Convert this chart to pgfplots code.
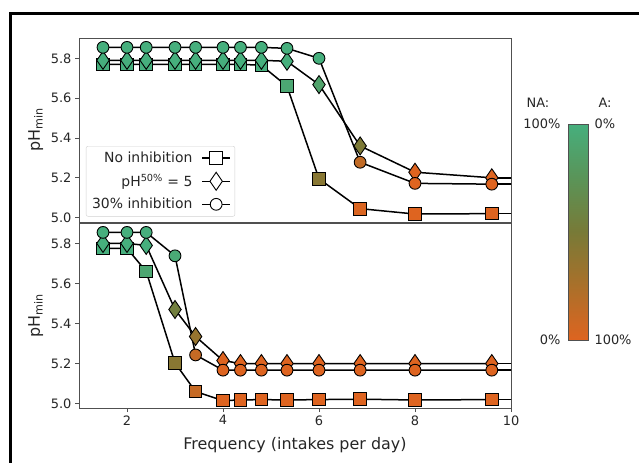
\documentclass[border=0pt]{standalone}
\usepackage{pgfplots}
\pgfplotsset{compat=1.18}
\usepackage{pgfplotstable}
\usepackage{fontspec}
\setmainfont{DejaVu Sans}
\setsansfont{DejaVu Sans}

\definecolor{spine}{RGB}{80,80,80}
\definecolor{txt}{RGB}{38,38,38}

\pgfplotsset{
  colormap={naa}{rgb255=(222,100,32) rgb255=(170,112,42) rgb255=(120,122,55) rgb255=(90,148,88) rgb255=(70,175,125)},
  panel/.style={
    scale only axis, width=432bp,
    xmin=1, xmax=10, ymin=4.978, ymax=5.902,
    colormap name=naa, point meta min=0, point meta max=1,
    axis line style={spine, line width=0.9bp},
    tick style={spine, line width=0.9bp},
    tick align=outside, major tick length=4bp,
    tick pos=left,
    ytick={5.0,5.2,5.4,5.6,5.8},
    yticklabel style={/pgf/number format/.cd, fixed, fixed zerofill, precision=1},
    /pgf/number format/assume math mode=true,
    tick label style={font=\fontsize{13}{15}\selectfont, text=txt},
    ylabel={pH\textsubscript{min}},
    ylabel style={at={(axis description cs:-0.1,0.5)}, anchor=center, rotate=0, font=\fontsize{16}{18}\selectfont, text=txt},
  },
  ln/.style={black, line width=1.5bp, no markers, forget plot},
  sc/.style={scatter, only marks, forget plot, point meta=explicit,
    scatter/use mapped color={draw=black, fill=mapped color}},
  sqm/.style={mark=square*, mark size=6.3bp, mark options={line width=0.9bp}},
  dim/.style={mark=diamond*, mark size=9bp, mark options={xscale=0.92, line width=0.9bp}},
  cim/.style={mark=*, mark size=5.9bp, mark options={line width=0.9bp}},
}

% ---------- top panel data ----------
\pgfplotstableread{
x y m
1.5 5.770 1
2 5.770 1
2.4 5.770 1
3 5.770 1
3.429 5.770 1
4 5.770 1
4.364 5.770 1
4.8 5.765 1
5.333 5.660 0.93
6 5.195 0.42
6.857 5.045 0.02
8 5.018 0
9.6 5.020 0
}\sqT
\pgfplotstableread{
x y m
1.5 5.790 1
2 5.790 1
2.4 5.790 1
3 5.790 1
3.429 5.790 1
4 5.790 1
4.364 5.790 1
4.8 5.790 1
5.333 5.785 1
6 5.668 0.88
6.857 5.360 0.48
8 5.228 0
9.6 5.200 0
}\diT
\pgfplotstableread{
x y m
1.5 5.855 1
2 5.855 1
2.4 5.855 1
3 5.855 1
3.429 5.855 1
4 5.855 1
4.364 5.855 1
4.8 5.855 1
5.333 5.850 1
6 5.800 1
6.857 5.278 0.14
8 5.172 0
9.6 5.168 0
}\ciT
% ---------- bottom panel data ----------
\pgfplotstableread{
x y m
1.5 5.775 1
2 5.775 1
2.4 5.660 0.92
3 5.203 0.42
3.429 5.060 0.12
4 5.015 0
4.364 5.018 0
4.8 5.020 0
5.333 5.018 0
6 5.020 0
6.857 5.022 0
8 5.018 0
9.6 5.020 0
}\sqB
\pgfplotstableread{
x y m
1.5 5.800 1
2 5.800 1
2.4 5.790 1
3 5.470 0.55
3.429 5.335 0.35
4 5.215 0
4.364 5.200 0
4.8 5.200 0
5.333 5.200 0
6 5.200 0
6.857 5.200 0
8 5.200 0
9.6 5.200 0
}\diB
\pgfplotstableread{
x y m
1.5 5.855 1
2 5.855 1
2.4 5.855 1
3 5.738 0.95
3.429 5.243 0.12
4 5.167 0
4.364 5.167 0
4.8 5.167 0
5.333 5.167 0
6 5.167 0
6.857 5.167 0
8 5.167 0
9.6 5.167 0
}\ciB

\begin{document}
\begin{tikzpicture}[font=\fontsize{13}{15}\selectfont]
\path[use as bounding box] (0,0) rectangle (639bp,463bp);
\fill[white] (0,0) rectangle (639bp,463bp);
\draw[black, line width=2.6bp] (10.7bp,-10bp) -- (10.7bp,449.5bp) -- (650bp,449.5bp);

% ---------------- top panel ----------------
\begin{axis}[panel, at={(79bp,241bp)}, anchor=south west, height=184bp,
  xtick=\empty,
  legend style={at={(rel axis cs:0.016,0.413)}, anchor=north west,
    draw=black!18, rounded corners=2bp, fill=white, text=txt,
    font=\fontsize{14}{16}\selectfont, row sep=6bp, column sep=7bp,
    inner xsep=4bp, inner ysep=4bp},
  legend cell align=right, legend plot pos=right,
  legend image code/.code={\draw[mark repeat=2, mark phase=2] plot coordinates {(0bp,0bp) (14bp,0bp) (28bp,0bp)};},
]
\addlegendimage{black, line width=1.5bp, mark=square*, mark size=6.3bp, mark options={fill=white, draw=black, line width=0.9bp}}
\addlegendentry{No inhibition}
\addlegendimage{black, line width=1.5bp, mark=diamond*, mark size=9bp, mark options={xscale=0.92, fill=white, draw=black, line width=0.9bp}}
\addlegendentry{pH\textsuperscript{50\%} = 5}
\addlegendimage{black, line width=1.5bp, mark=*, mark size=5.9bp, mark options={fill=white, draw=black, line width=0.9bp}}
\addlegendentry{30\% inhibition}

\addplot[ln] table[x=x,y=y] {\sqT};
\addplot[ln] coordinates {(9.6,5.020) (12,5.020)};
\addplot[sc, sqm] table[x=x,y=y,meta=m] {\sqT};
\addplot[ln] table[x=x,y=y] {\diT};
\addplot[ln] coordinates {(9.6,5.200) (12,5.200)};
\addplot[sc, dim] table[x=x,y=y,meta=m] {\diT};
\addplot[ln] table[x=x,y=y] {\ciT};
\addplot[ln] coordinates {(9.6,5.168) (12,5.168)};
\addplot[sc, cim] table[x=x,y=y,meta=m] {\ciT};
\end{axis}

% ---------------- bottom panel ----------------
\begin{axis}[panel, at={(79bp,55bp)}, anchor=south west, height=185bp,
  xtick={2,4,6,8,10},
  xlabel={Frequency (intakes per day)},
  xlabel style={at={(axis description cs:0.5,-0.225)}, anchor=base, font=\fontsize{16}{18}\selectfont, text=txt},
]
\addplot[ln] table[x=x,y=y] {\sqB};
\addplot[ln] coordinates {(9.6,5.020) (12,5.020)};
\addplot[sc, sqm] table[x=x,y=y,meta=m] {\sqB};
\addplot[ln] table[x=x,y=y] {\diB};
\addplot[ln] coordinates {(9.6,5.200) (12,5.200)};
\addplot[sc, dim] table[x=x,y=y,meta=m] {\diB};
\addplot[ln] table[x=x,y=y] {\ciB};
\addplot[ln] coordinates {(9.6,5.167) (12,5.167)};
\addplot[sc, cim] table[x=x,y=y,meta=m] {\ciB};
\end{axis}

% ---------------- colour bar ----------------
\begin{axis}[at={(568bp,123bp)}, anchor=south west, scale only axis,
  width=20bp, height=216bp, xmin=0, xmax=1, ymin=0, ymax=1,
  ticks=none, axis line style={spine, line width=0.9bp}, axis on top,
  colormap name=naa, point meta min=0, point meta max=1]
\addplot[surf, shader=interp, point meta=y, mesh/rows=5, mesh/cols=2] coordinates {
(0,0) (1,0)
(0,0.25) (1,0.25)
(0,0.5) (1,0.5)
(0,0.75) (1,0.75)
(0,1) (1,1)};
\end{axis}
\node[anchor=east, text=txt] at (564bp,339bp) {100\%};
\node[anchor=west, text=txt] at (591bp,339bp) {0\%};
\node[anchor=east, text=txt] at (564bp,123bp) {0\%};
\node[anchor=west, text=txt] at (591bp,123bp) {100\%};
\node[text=txt] at (538bp,360bp) {NA:};
\node[text=txt] at (605bp,360bp) {A:};
\end{tikzpicture}
\end{document}
